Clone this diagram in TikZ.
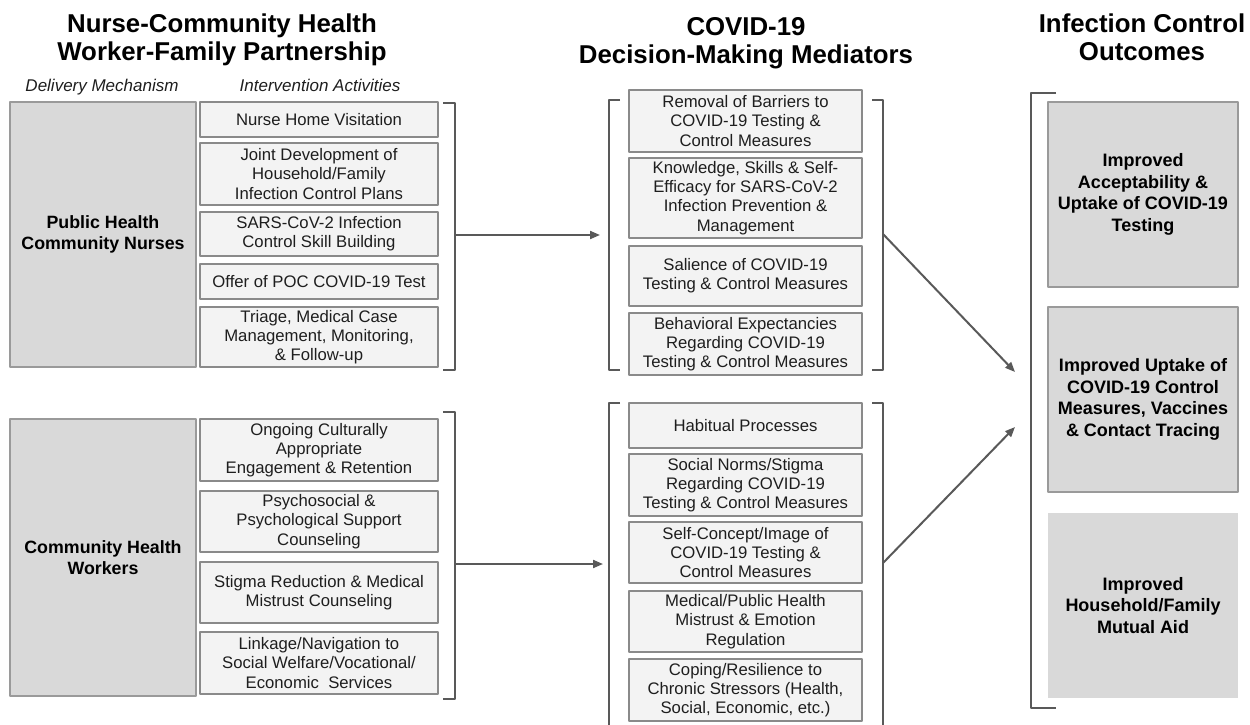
\documentclass[tikz,border=0pt]{standalone}
\usepackage{fontspec}
\setmainfont{Liberation Sans}
\usetikzlibrary{arrows.meta}
\definecolor{mainfill}{HTML}{D9D9D9}
\definecolor{mainline}{HTML}{9A9A9A}
\definecolor{actfill}{HTML}{F3F3F3}
\definecolor{actline}{HTML}{8A8A8A}
\definecolor{brakgrey}{HTML}{595959}
\definecolor{textgrey}{HTML}{1E1E1E}
\begin{document}
\begin{tikzpicture}[x=1pt,y=-1pt,line join=round,>={Triangle[length=10pt,width=8pt]}]
	\tikzset{head/.style={font=\fontsize{25.8}{28}\selectfont\bfseries,align=center,anchor=north,inner sep=0pt},
		colhead/.style={font=\fontsize{17}{20}\selectfont\itshape,anchor=base,inner sep=0pt,text=textgrey},
		actbox/.style={draw=actline,fill=actfill,line width=1.3pt,inner sep=0pt,align=center,font=\fontsize{16.7}{19.2}\selectfont,text=textgrey},
		mainbox/.style={draw=mainline,fill=mainfill,line width=1.3pt,inner sep=0pt,align=center,minimum width=186pt,font=\fontsize{17.8}{21.7}\selectfont\bfseries},
		outbox/.style={draw=mainline,fill=mainfill,line width=1.3pt,inner sep=0pt,align=center,minimum width=190pt,minimum height=185pt,font=\fontsize{18}{21.7}\selectfont\bfseries},
		brak/.style={draw=brakgrey,line width=2.6pt},
		conn/.style={draw=brakgrey,line width=2pt,->}}
	\useasboundingbox (0,0) rectangle (1250,724);
	% column heads
	\node[head] (t1) at (222,14) {Nurse-Community Health\\Worker-Family Partnership};
	\node[head] (t2) at (746,17) {COVID-19\\Decision-Making Mediators};
	\node[head] (t3) at (1142,14) {Infection Control\\Outcomes};
	\node[colhead] (h1) at (102,91) {Delivery Mechanism};
	\node[colhead] (h2) at (320,91) {Intervention Activities};
	% delivery mechanism
	\node[mainbox,minimum height=265pt] (dm1) at (103,234.5) {Public Health\\Community Nurses};
	\node[mainbox,minimum height=277pt] (dm2) at (103,557.5) {Community Health\\Workers};
	% intervention activities
	\foreach \n/\y/\h/\t in {a1/119.5/35/{Nurse Home Visitation},
		a2/174/62/{Joint Development of\\Household/Family\\Infection Control Plans},
		a3/234/44/{SARS-CoV-2 Infection\\Control Skill Building},
		a4/281.5/35/{Offer of POC COVID-19 Test},
		a5/337/60/{Triage, Medical Case\\Management, Monitoring,\\\& Follow-up},
		a6/450/62/{Ongoing Culturally\\Appropriate\\Engagement \& Retention},
		a7/521.5/61/{Psychosocial \&\\Psychological Support\\Counseling},
		a8/592.5/61/{Stigma Reduction \& Medical\\Mistrust Counseling},
		a9/663/62/{Linkage/Navigation to\\Social Welfare/Vocational/\\Economic\ \ Services}}
	\node[actbox,minimum width=238pt,minimum height=\h pt] (\n) at (319,\y) {\t};
	% mediators
	\foreach \n/\y/\h/\t in {m1/121/62/{Removal of Barriers to\\COVID-19 Testing \&\\Control Measures},
		m2/198/80/{Knowledge, Skills \& Self-\\Efficacy for SARS-CoV-2\\Infection Prevention \&\\Management},
		m3/276/60/{Salience of COVID-19\\Testing \& Control Measures},
		m4/344/62/{Behavioral Expectancies\\Regarding COVID-19\\Testing \& Control Measures},
		m5/425.5/45/{Habitual Processes},
		m6/485/62/{Social Norms/Stigma\\Regarding COVID-19\\Testing \& Control Measures},
		m7/552.5/61/{Self-Concept/Image of\\COVID-19 Testing \&\\Control Measures},
		m8/621.5/61/{Medical/Public Health\\Mistrust \& Emotion\\Regulation},
		m9/690/62/{Coping/Resilience to\\Chronic Stressors (Health,\\Social, Economic, etc.)}}
	\node[actbox,minimum width=233pt,minimum height=\h pt] (\n) at (745.5,\y) {\t};
	% outcomes
	\node[outbox] (o1) at (1143,194.5) {Improved\\Acceptability \&\\Uptake of COVID-19\\Testing};
	\node[outbox] (o2) at (1143,399.5) {Improved Uptake of\\COVID-19 Control\\Measures, Vaccines\\\& Contact Tracing};
	\node[outbox,draw=none] (o3) at (1143,605.5) {Improved\\Household/Family\\Mutual Aid};
	% brackets
	\draw[brak] (443,103)--(455,103)--(455,370)--(443,370);
	\draw[brak] (443,412)--(455,412)--(455,699)--(443,699);
	\draw[brak] (620,100)--(609,100)--(609,370)--(620,370);
	\draw[brak] (872,100)--(883,100)--(883,370)--(872,370);
	\draw[brak] (620,403)--(609,403)--(609,740);
	\draw[brak] (872,403)--(883,403)--(883,740);
	\draw[brak] (1056,93)--(1031,93)--(1031,708)--(1056,708);
	% connectors
	\coordinate (ab1) at (455,235);
	\coordinate (ab2) at (455,564);
	\coordinate (ml1) at (600,235);
	\coordinate (ml2) at (603,564);
	\coordinate (mr1) at (883,234);
	\coordinate (mr2) at (883,563);
	\coordinate (ol1) at (1015,372);
	\coordinate (ol2) at (1015,427);
	\draw[conn] (ab1)--(ml1);
	\draw[conn] (ab2)--(ml2);
	\draw[conn] (mr1)--(ol1);
	\draw[conn] (mr2)--(ol2);
\end{tikzpicture}
\end{document}
